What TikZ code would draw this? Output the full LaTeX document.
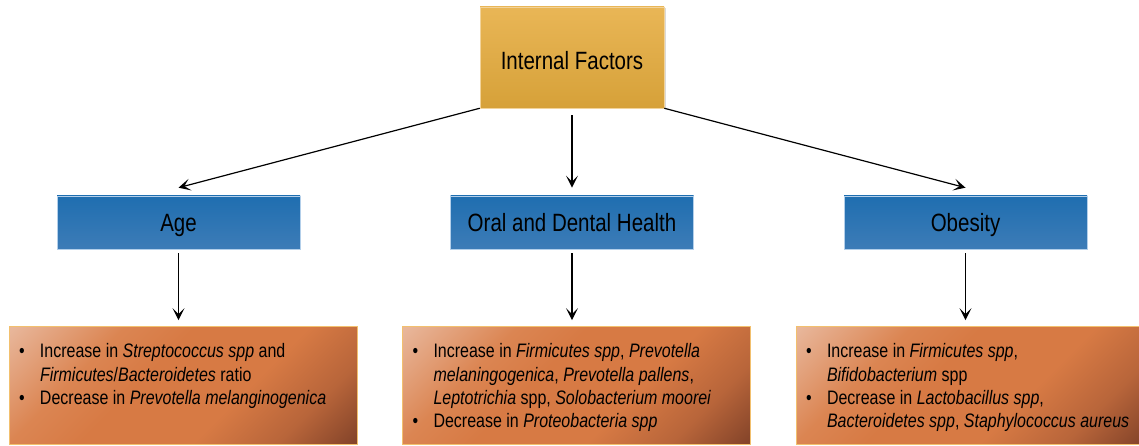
\documentclass[tikz,border=0pt]{standalone}
\usepackage{fontspec}
\setmainfont{Liberation Sans}[FakeStretch=0.82]
\usetikzlibrary{arrows.meta,shadows}

\definecolor{goldtop}{HTML}{E9B656}
\definecolor{goldbot}{HTML}{D6A139}
\definecolor{bluetop}{HTML}{1F6EB0}
\definecolor{bluemid}{HTML}{5290C5}
\definecolor{bluebot}{HTML}{3D7CB7}
\definecolor{bluerim}{HTML}{B3CFEA}
\definecolor{peach}{HTML}{E8B69A}
\definecolor{rust}{HTML}{D77A44}
\definecolor{rustlight}{HTML}{DB8552}
\definecolor{rustdark}{HTML}{B8653A}
\definecolor{brown}{HTML}{86452A}
\definecolor{boxrim}{HTML}{F2C06E}

% diagonal fill of the effect boxes (335bp square, turned by 45 degrees)
\pgfdeclareverticalshading{effectshade}{335bp}{color(0bp)=(brown); color(8bp)=(brown);
  color(60bp)=(rustdark); color(120bp)=(rust); color(200bp)=(rust); color(250bp)=(rustlight);
  color(328bp)=(peach); color(335bp)=(peach)}

% one bullet line with hanging indent
\newcommand{\bitem}{\par\hangindent=21pt\hangafter=1\noindent\makebox[21pt][l]{\textbullet}}
\newcommand{\effectlist}[1]{\begin{minipage}[t][84pt][t]{328pt}\raggedright#1\end{minipage}}

\begin{document}
\begin{tikzpicture}[x=1pt,y=1pt,>={Stealth[length=12pt,width=12pt,inset=6pt]},
                    line width=1.2pt,node distance=165pt,
                    top node/.style={draw=goldtop!60!white,line width=0.5pt,top color=goldtop,bottom color=goldbot,
                      minimum width=184pt,minimum height=101pt,text height=25pt,text depth=0pt,
                      font=\fontsize{25}{30}\selectfont,
                      drop shadow={opacity=0.3,shadow xshift=1.5pt,shadow yshift=-1.5pt}},
                    factor node/.style={draw=bluerim,line width=0.6pt,top color=bluetop,middle color=bluemid,
                      bottom color=bluebot,minimum width=243pt,minimum height=53pt,text height=18pt,text depth=0pt,
                      font=\fontsize{25}{30}\selectfont},
                    effect node/.style={draw=boxrim,line width=0.8pt,
                      path picture={\node[rotate=45,inner sep=0pt] at (path picture bounding box.center)
                        {\pgfuseshading{effectshade}};},
                      inner xsep=10pt,inner ysep=17pt,minimum height=118pt,
                      node distance=163pt,xshift=4.5pt,font=\fontsize{19.5}{23.4}\selectfont}]
  \useasboundingbox (0,-446) rectangle (1139,0);

  \node[top node] (top) at (572,-57.5) {Internal Factors};
  \node[factor node] (oral) [below of=top] {Oral and Dental Health};
  \node[factor node,node distance=393.5pt] (age) [left of=oral] {Age};
  \node[factor node,node distance=393.5pt] (obesity) [right of=oral] {Obesity};

  \node[effect node] (ageeff) [below of=age] {\effectlist{%
    \bitem Increase in \textit{Streptococcus spp} and\newline \textit{Firmicutes}/\textit{Bacteroidetes} ratio
    \bitem Decrease in \textit{Prevotella melanginogenica}}};
  \node[effect node] (oraleff) [below of=oral] {\effectlist{%
    \bitem Increase in \textit{Firmicutes spp}, \textit{Prevotella}\newline \textit{melaningogenica}, \textit{Prevotella pallens},\newline \textit{Leptotrichia} spp, \textit{Solobacterium moorei}
    \bitem Decrease in \textit{Proteobacteria spp}}};
  \node[effect node] (obeseff) [below of=obesity] {\effectlist{%
    \bitem Increase in \textit{Firmicutes spp},\newline \textit{Bifidobacterium} spp
    \bitem Decrease in \textit{Lactobacillus spp},\newline \textit{Bacteroidetes spp}, \textit{Staphylococcus aureus}}};

  \path[->]
    (top.south west) edge ([yshift=8pt]age.north)
    (top) edge [shorten <=7pt,shorten >=8pt] (oral)
    (top.south east) edge ([yshift=8pt]obesity.north)
    (age.south) edge [shorten <=4pt,shorten >=6pt] (age.south |- ageeff.north)
    (oral.south) edge [shorten <=4pt,shorten >=6pt] (oral.south |- oraleff.north)
    (obesity.south) edge [shorten <=4pt,shorten >=6pt] (obesity.south |- obeseff.north)
    ;
\end{tikzpicture}
\end{document}
